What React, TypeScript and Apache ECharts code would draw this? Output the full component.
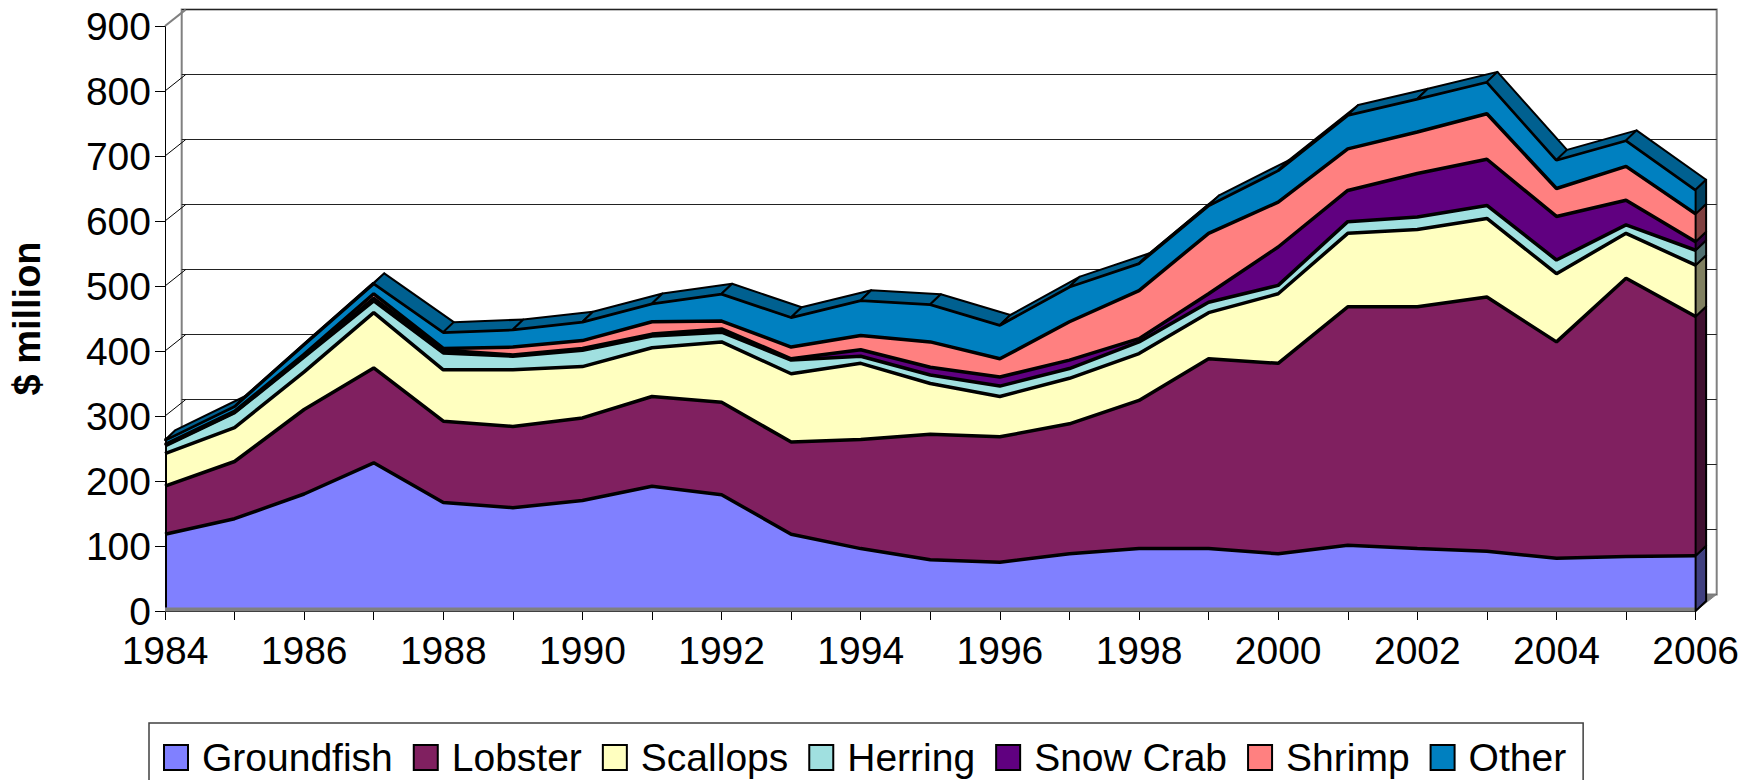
import React, { useEffect, useRef } from "react";
import * as echarts from "echarts";

const years = [
  "1984", "1985", "1986", "1987", "1988", "1989", "1990", "1991", "1992", "1993", "1994", "1995",
  "1996", "1997", "1998", "1999", "2000", "2001", "2002", "2003", "2004", "2005", "2006",
];

const groundfish = [118, 142, 180, 228, 167, 159, 170, 192, 179, 118, 96, 79, 75, 88, 96, 96, 88, 101, 96, 92, 81, 84, 85];
const lobster = [74, 88, 130, 146, 125, 125, 127, 138, 142, 142, 168, 193, 193, 200, 228, 292, 293, 367, 372, 391, 333, 428, 368];
const scallops = [50, 52, 58, 85, 79, 87, 79, 75, 93, 105, 117, 78, 62, 70, 72, 71, 107, 113, 119, 121, 105, 69, 79];
const herring = [12, 23, 23, 18, 26, 21, 25, 18, 15, 21, 11, 13, 16, 15, 18, 16, 13, 18, 19, 20, 21, 13, 23];
const snowCrab = [1, 1, 1, 4, 4, 2, 3, 3, 5, 2, 10, 12, 14, 13, 5, 13, 59, 48, 67, 71, 67, 38, 13];
const shrimp = [1, 1, 3, 7, 3, 12, 12, 19, 12, 18, 22, 39, 28, 59, 74, 93, 69, 64, 64, 70, 43, 52, 43];
const other = [7, 8, 15, 16, 25, 27, 29, 28, 42, 46, 54, 58, 52, 54, 42, 43, 49, 52, 51, 49, 44, 40, 37];

const seriesNames = ["Groundfish", "Lobster", "Scallops", "Herring", "Snow Crab", "Shrimp", "Other"];
const fillColors = ["#8080FF", "#802060", "#FFFFC0", "#A0E0E0", "#600080", "#FF8080", "#0080C0"];
const sideColors = ["#404080", "#401030", "#808060", "#507070", "#300040", "#804040", "#004060"];
const topColor = "#006090";
const yTicks = [0, 100, 200, 300, 400, 500, 600, 700, 800, 900];

export default function App() {
  const ref = useRef<HTMLDivElement>(null);

  useEffect(() => {
    const chart = echarts.init(ref.current!, null, { renderer: "svg" });
    const layers = [groundfish, lobster, scallops, herring, snowCrab, shrimp, other];
    const cum: number[][] = [];
    layers.forEach((arr, k) => {
      cum.push(arr.map((v, i) => v + (k ? cum[k - 1][i] : 0)));
    });
    const total = cum[cum.length - 1];
    const n = years.length;
    const DX = 10.5;
    const DY = -10;
    const WX = 20.7;
    const WY = -16.4;
    const font = "'Liberation Sans', Arial, sans-serif";

    const areaSeries = layers.map((arr, k) => ({
      name: seriesNames[k],
      type: "line",
      stack: "total",
      data: arr,
      xAxisIndex: 0,
      yAxisIndex: 0,
      symbol: "none",
      showSymbol: false,
      silent: true,
      z: 2,
      lineStyle: { color: "#000", width: 3.5 },
      itemStyle: { color: fillColors[k] },
      areaStyle: { color: fillColors[k], opacity: 1 },
    }));

    const option: any = {
      animation: false,
      textStyle: { fontFamily: font },
      grid: [
        { left: 161, top: 26, width: 1535, height: 585 },
        {
          left: 161 + WX,
          top: 26 + WY,
          width: 1535,
          height: 585,
          show: true,
          borderColor: "#808080",
          borderWidth: 2,
          backgroundColor: "transparent",
        },
      ],
      xAxis: [
        {
          gridIndex: 0,
          type: "category",
          data: years,
          boundaryGap: false,
          axisLine: { show: true, lineStyle: { color: "#000", width: 1 } },
          axisTick: { show: true, interval: 0, length: 9, lineStyle: { color: "#000" } },
          axisLabel: { interval: 1, fontSize: 39, color: "#000", fontFamily: font, margin: 20 },
          splitLine: { show: false },
        },
        {
          gridIndex: 1,
          type: "category",
          data: years,
          boundaryGap: false,
          show: false,
        },
      ],
      yAxis: [
        {
          gridIndex: 0,
          type: "value",
          min: 0,
          max: 900,
          interval: 100,
          name: "$ million",
          nameLocation: "middle",
          nameRotate: 90,
          nameGap: 119,
          nameTextStyle: { fontSize: 38, fontWeight: "bold", color: "#000", fontFamily: font },
          axisLine: { show: true, lineStyle: { color: "#000", width: 1 } },
          axisTick: { show: true, length: 10, lineStyle: { color: "#000" } },
          axisLabel: { fontSize: 39, color: "#000", margin: 14, fontFamily: font },
          splitLine: { show: false },
        },
        {
          gridIndex: 1,
          type: "value",
          min: 0,
          max: 900,
          interval: 100,
          axisLine: { show: false },
          axisTick: { show: false },
          axisLabel: { show: false },
          splitLine: { show: true, lineStyle: { color: "#222", width: 1 } },
        },
      ],
      legend: {
        left: 149,
        top: 723,
        orient: "horizontal",
        icon: "rect",
        itemWidth: 24,
        itemHeight: 25,
        itemGap: 20,
        padding: [15, 17, 30, 14],
        borderColor: "#404040",
        borderWidth: 1.5,
        selectedMode: false,
        data: seriesNames,
        itemStyle: { borderColor: "#000", borderWidth: 2 },
        formatter: (name: string) => "{g| }" + name,
        textStyle: {
          fontSize: 39,
          color: "#000",
          fontFamily: font,
          rich: { g: { width: 9, fontSize: 39 } },
        },
      },
      series: [
        {
          type: "custom",
          xAxisIndex: 0,
          yAxisIndex: 0,
          silent: true,
          clip: false,
          z: 1,
          data: yTicks.map((v) => [0, v]),
          renderItem: (params: any, api: any) => {
            const v = yTicks[params.dataIndex];
            const p = api.coord([0, v]);
            const children: any[] = [];
            if (params.dataIndex === 0) {
              const a = api.coord([0, 0]);
              const b = api.coord([n - 1, 0]);
              children.push({
                type: "polygon",
                shape: { points: [a, b, [b[0] + WX, b[1] + WY], [a[0] + WX, a[1] + WY]] },
                style: { fill: "#808080", stroke: "#808080", lineWidth: 1 },
              });
            }
            children.push({
              type: "line",
              shape: { x1: p[0], y1: p[1], x2: p[0] + WX, y2: p[1] + WY },
              style: { stroke: v === 900 ? "#808080" : "#000", lineWidth: v === 900 ? 2 : 1 },
            });
            return { type: "group", children };
          },
        },
        ...areaSeries,
        {
          type: "custom",
          xAxisIndex: 0,
          yAxisIndex: 0,
          silent: true,
          clip: false,
          z: 5,
          data: total.map((v, i) => [i, v]),
          renderItem: (params: any, api: any) => {
            const i = params.dataIndex;
            const children: any[] = [];
            if (i < n - 1) {
              const a = api.coord([i, total[i]]);
              const b = api.coord([i + 1, total[i + 1]]);
              children.push({
                type: "polygon",
                shape: { points: [a, b, [b[0] + DX, b[1] + DY], [a[0] + DX, a[1] + DY]] },
                style: { fill: topColor, stroke: "#000", lineWidth: 2, lineJoin: "round" },
              });
            } else {
              layers.forEach((_, k) => {
                const lo = api.coord([i, k ? cum[k - 1][i] : 0]);
                const hi = api.coord([i, cum[k][i]]);
                children.push({
                  type: "polygon",
                  shape: { points: [lo, hi, [hi[0] + DX, hi[1] + DY], [lo[0] + DX, lo[1] + DY]] },
                  style: { fill: sideColors[k], stroke: "#000", lineWidth: 2, lineJoin: "round" },
                });
              });
            }
            if (i === 0) {
              const a = api.coord([0, 0]);
              const b = api.coord([n - 1, 0]);
              const t = api.coord([0, total[0]]);
              children.push({
                type: "rect",
                shape: { x: a[0], y: a[1] - 3.5, width: b[0] - a[0], height: 3.5 },
                style: { fill: "#808080" },
              });
              children.push({
                type: "line",
                shape: { x1: a[0] + 1, y1: a[1] - 3.5, x2: t[0] + 1, y2: t[1] },
                style: { stroke: "#000", lineWidth: 2 },
              });
            }
            return { type: "group", children };
          },
        },
      ],
    };

    chart.setOption(option);
    return () => {
      chart.dispose();
    };
  }, []);

  return (
    <div
      ref={ref}
      style={{ position: "fixed", left: 0, top: 0, width: 1742, height: 780, background: "#fff" }}
    />
  );
}
